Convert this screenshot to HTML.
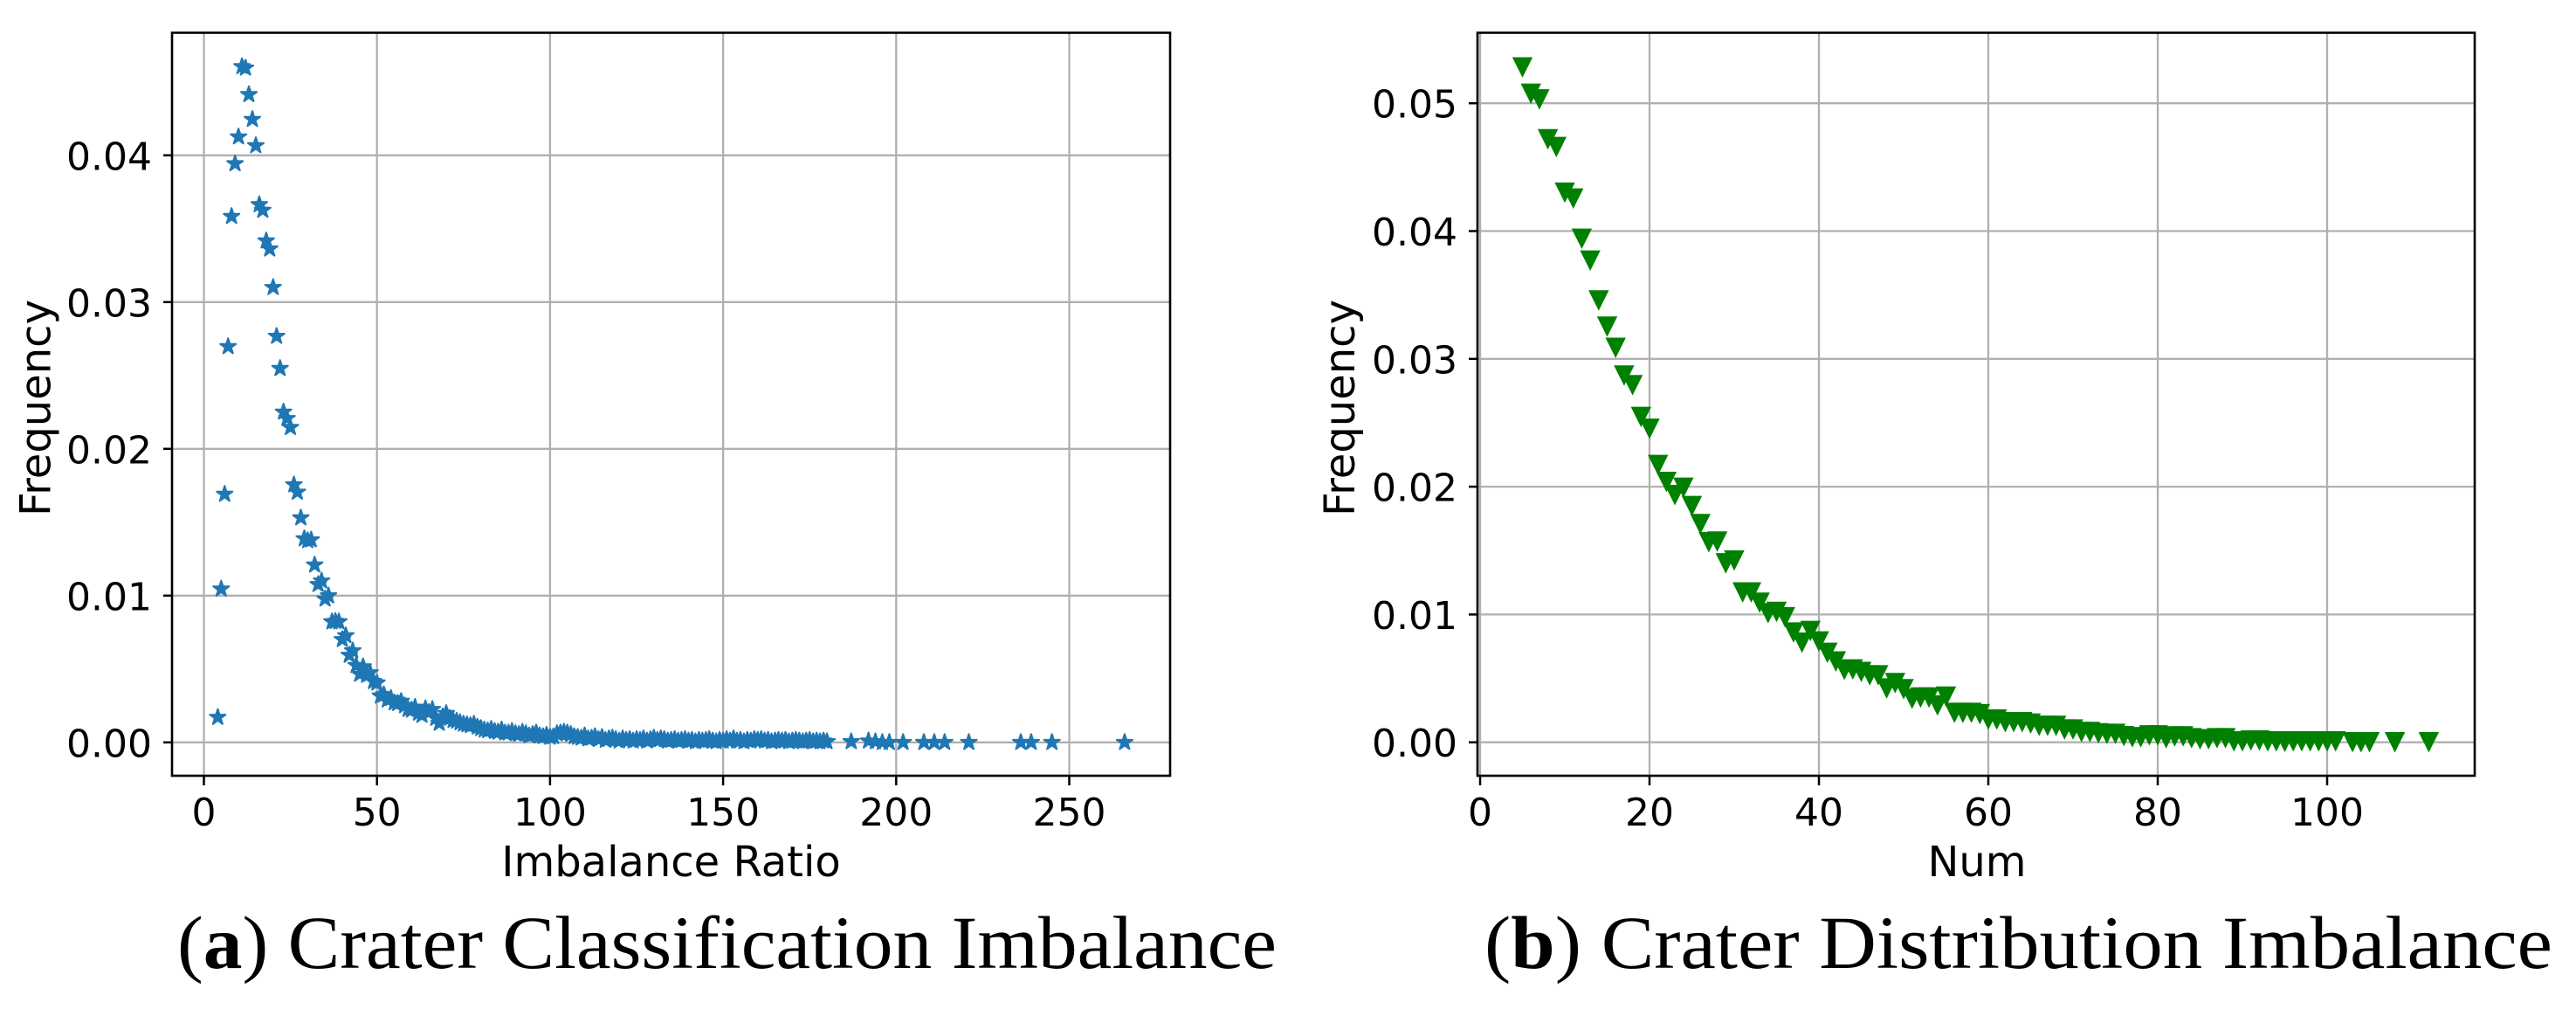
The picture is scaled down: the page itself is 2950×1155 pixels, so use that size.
<!DOCTYPE html>
<html lang="en">
<head>
<meta charset="utf-8">
<title>Crater Imbalance Charts</title>
<style>
html,body{margin:0;padding:0;background:#fff;}
svg{display:block;}
text{fill:#000;}
.tick{font-family:"DejaVu Sans",sans-serif;font-size:44px;}
.axis{font-family:"DejaVu Sans",sans-serif;font-size:48px;}
.cap{font-family:"Liberation Serif",serif;font-size:86px;}
</style>
</head>
<body>
<svg id="fig" xmlns="http://www.w3.org/2000/svg" width="2950" height="1155" viewBox="0 0 2950 1155">
  <g id="panel-a">
    <g id="a-grid"></g>
    <g id="a-marks"></g>
    <g id="a-ticks"></g>
    <rect x="197" y="37.5" width="1143" height="850.5" fill="none" stroke="#000" stroke-width="2.6"/>
    <text class="axis" x="768.5" y="1003" text-anchor="middle">Imbalance Ratio</text>
    <text class="axis" transform="translate(57.5,467) rotate(-90)" text-anchor="middle">Frequency</text>
  </g>
  <g id="panel-b">
    <g id="b-grid"></g>
    <g id="b-marks"></g>
    <g id="b-ticks"></g>
    <rect x="1692" y="37.5" width="1142" height="850.5" fill="none" stroke="#000" stroke-width="2.6"/>
    <text class="axis" x="2264" y="1003" text-anchor="middle">Num</text>
    <text class="axis" transform="translate(1551,467) rotate(-90)" text-anchor="middle">Frequency</text>
  </g>
  <text class="cap" x="203" y="1108" textLength="1259" lengthAdjust="spacingAndGlyphs">(<tspan font-weight="bold">a</tspan>) Crater Classification Imbalance</text>
  <text class="cap" x="1700" y="1108" textLength="1223" lengthAdjust="spacingAndGlyphs">(<tspan font-weight="bold">b</tspan>) Crater Distribution Imbalance</text>
</svg>
<script>
// Chart A data
const ratioTicks = [0, 50, 100, 150, 200, 250];
const ratioTickLabels = ["0", "50", "100", "150", "200", "250"];
const freqTicksA = [0, 0.01, 0.02, 0.03, 0.04];
const freqTickLabelsA = ["0.00", "0.01", "0.02", "0.03", "0.04"];
const ratioValues = [
  4,5,6,7,8,9,10,11,12,13,14,15,16,17,18,19,20,21,22,23,24,25,26,27,28,29,30,31,32,33,34,35,36,37,38,39,40,
  41,42,43,44,45,46,47,48,49,50,51,52,53,54,55,56,57,58,59,60,61,62,63,64,65,66,67,68,69,70,71,72,73,74,75,
  76,77,78,79,80,81,82,83,84,85,86,87,88,89,90,91,92,93,94,95,96,97,98,99,100,101,102,103,104,105,106,107,108,109,110,
  111,112,113,114,115,116,117,118,119,120,121,122,123,124,125,126,127,128,129,130,131,132,133,134,135,136,137,138,139,140,
  141,142,143,144,145,146,147,148,149,150,151,152,153,154,155,156,157,158,159,160,161,162,163,164,165,166,167,168,169,170,
  171,172,173,174,175,176,177,178,179,180,
  187,192,194,196,198,202,208,211,214,221,236,239,245,266
];
const ratioFreq = [
  .00171,.01045,.01691,.02697,.03584,.03943,.04126,.04605,.04595,.04414,.04245,.04066,.03664,.03626,.03417,.03362,.03100,.02767,.02548,.02251,.02207,.02146,.01755,.01705,.0153,.01388,.01375,.01380,.01209,.01076,.01100,.00977,.00999,.00822,.00825,.00822,.00701,
  .00727,.00594,.00624,.00524,.00465,.00516,.00457,.00475,.00415,.00405,.00316,.00325,.00290,.00300,.00270,.00265,.00280,.00250,.00225,.00220,.00240,.00200,.00185,.00230,.00205,.00225,.00165,.00130,.00175,.00197,.00165,.00150,.00145,.00135,.00125,
  .00120,.00115,.00125,.00105,.00095,.00085,.00080,.00090,.00075,.00070,.00085,.00065,.00065,.00075,.00060,.00055,.00070,.00060,.00045,.00055,.00065,.00045,.00040,.00050,.00035,.00040,.00060,.00065,.00070,.00065,.00055,.00040,.00035,.00030,.00045,.00025,.00030,
  .00040,.00020,.00035,.00015,.00025,.00030,.00020,.00010,.00025,.00015,.00020,.00010,.00020,.00015,.00025,.00010,.00020,.00030,.00015,.00025,.00020,.00010,.00015,.00020,.00010,.00015,.00020,.00010,.00015,.00005,.00015,
  .00010,.00015,.00020,.00010,.00005,.00015,.00010,.00020,.00010,.00025,.00010,.00015,.00005,.00015,.00010,.00020,.00015,.00020,.00010,.00015,.00005,.00010,.00015,.00010,.00015,.00005,.00010,.00015,.00010,.00005,
  .00010,.00015,.00005,.00010,.00005,.00010,.00005,.00005,.00010,.00005,
  0,0,0,0,0,0,0,0,0,0,0,0,0,0
];

// Chart B data
const numTicks = [0, 20, 40, 60, 80, 100];
const numTickLabels = ["0", "20", "40", "60", "80", "100"];
const freqTicksB = [0, 0.01, 0.02, 0.03, 0.04, 0.05];
const freqTickLabelsB = ["0.00", "0.01", "0.02", "0.03", "0.04", "0.05"];
const numValues = [
  5,6,7,8,9,10,11,12,13,14,15,16,17,18,19,20,21,22,23,24,25,26,27,28,29,30,31,32,33,34,35,36,37,38,39,40,
  41,42,43,44,45,46,47,48,49,50,51,52,53,54,55,56,57,58,59,60,61,62,63,64,65,66,67,68,69,70,71,72,73,74,75,
  76,77,78,79,80,81,82,83,84,85,86,87,88,89,90,91,92,93,94,95,96,97,98,99,100,101,103,104,105,108,112
];
const numFreq = [
  .0528,.05074,.0503,.04718,.04657,.04300,.04254,.03940,.03769,.03457,.03252,.03086,.02869,.02794,.02545,.02453,.02169,.02037,.01934,.01992,.01848,.01707,.01565,.0157,.0140,.01422,.01172,.01172,.01092,.01010,.0102,.00978,.00859,.00779,.00871,.00789,
  .00700,.00632,.00567,.0057,.0055,.00524,.00524,.00421,.00463,.00415,.0034,.0035,.0035,.00288,.00357,.0023,.0023,.0023,.0022,.00178,.00178,.00157,.00157,.00157,.00146,.00128,.00128,.00128,.0010,.0010,.0008,.0008,.0007,.00066,.00066,
  .00048,.00039,.00039,.00054,.00054,.00032,.00046,.00046,.00032,.00023,.00023,.00032,.00032,.00007,.00007,.00014,.00014,.00007,.00007,.00003,.00007,.00007,.00007,.00007,.00007,.00007,0,0,0,0,0
];

// Axis functions
const xA = v => 233.5 + 3.964 * v;
const yA = v => 849.8 - 16800 * v;
const xB = v => 1695 + 9.7 * v;
const yB = v => 849.7 - 14630 * v;

const NS = "http://www.w3.org/2000/svg";
function make(tag, attrs, parent) {
  const el = document.createElementNS(NS, tag);
  for (const k in attrs) el.setAttribute(k, attrs[k]);
  parent.appendChild(el);
  return el;
}

function drawAxes(prefix, xs, xLabels, ys, yLabels, fx, fy, left, right) {
  const grid = document.getElementById(prefix + "-grid");
  const ticks = document.getElementById(prefix + "-ticks");
  const top = 37.5, bottom = 888;
  xs.forEach((v, i) => {
    const gl = make("line", {x1: fx(v), x2: fx(v), y1: top, y2: bottom, stroke: "#b0b0b0", "stroke-width": 2.3}, grid);
    
    
    const tm = make("line", {x1: fx(v), x2: fx(v), y1: bottom, y2: bottom + 11, stroke: "#000", "stroke-width": 2.5}, ticks);
    
    
    const tl = make("text", {x: fx(v), y: 945, "text-anchor": "middle", class: "tick"}, ticks);
    tl.textContent = xLabels[i];
    
    
  });
  ys.forEach((v, i) => {
    const gl = make("line", {x1: left, x2: right, y1: fy(v), y2: fy(v), stroke: "#b0b0b0", "stroke-width": 2.3}, grid);
    
    
    const tm = make("line", {x1: left - 10, x2: left, y1: fy(v), y2: fy(v), stroke: "#000", "stroke-width": 2.5}, ticks);
    
    
    const tl = make("text", {x: left - 23, y: fy(v) + 16.5, "text-anchor": "end", class: "tick"}, ticks);
    tl.textContent = yLabels[i];
    
    
  });
}

function starPoints(cx, cy, R) {
  const pts = [];
  for (let i = 0; i < 10; i++) {
    const r = i % 2 ? R * 0.382 : R;
    const a = -Math.PI / 2 + i * Math.PI / 5;
    pts.push((cx + r * Math.cos(a)).toFixed(1) + "," + (cy + r * Math.sin(a)).toFixed(1));
  }
  return pts.join(" ");
}

function triPoints(cx, cy) {
  return [(cx - 11.7) + "," + (cy - 11.7), (cx + 11.7) + "," + (cy - 11.7), cx + "," + (cy + 11.7)].join(" ");
}

drawAxes("a", ratioTicks, ratioTickLabels, freqTicksA, freqTickLabelsA, xA, yA, 197, 1340);
drawAxes("b", numTicks, numTickLabels, freqTicksB, freqTickLabelsB, xB, yB, 1692, 2834);

const marksA = document.getElementById("a-marks");
ratioValues.forEach((v, i) => {
  const p = make("polygon", {points: starPoints(xA(v), yA(ratioFreq[i]), 9.5), fill: "#1f77b4", stroke: "#1f77b4", "stroke-width": 2, "stroke-linejoin": "round"}, marksA);
  
  
});

const marksB = document.getElementById("b-marks");
numValues.forEach((v, i) => {
  const p = make("polygon", {points: triPoints(xB(v), yB(numFreq[i])), fill: "#008000"}, marksB);
  
  
});
</script>
</body>
</html>
